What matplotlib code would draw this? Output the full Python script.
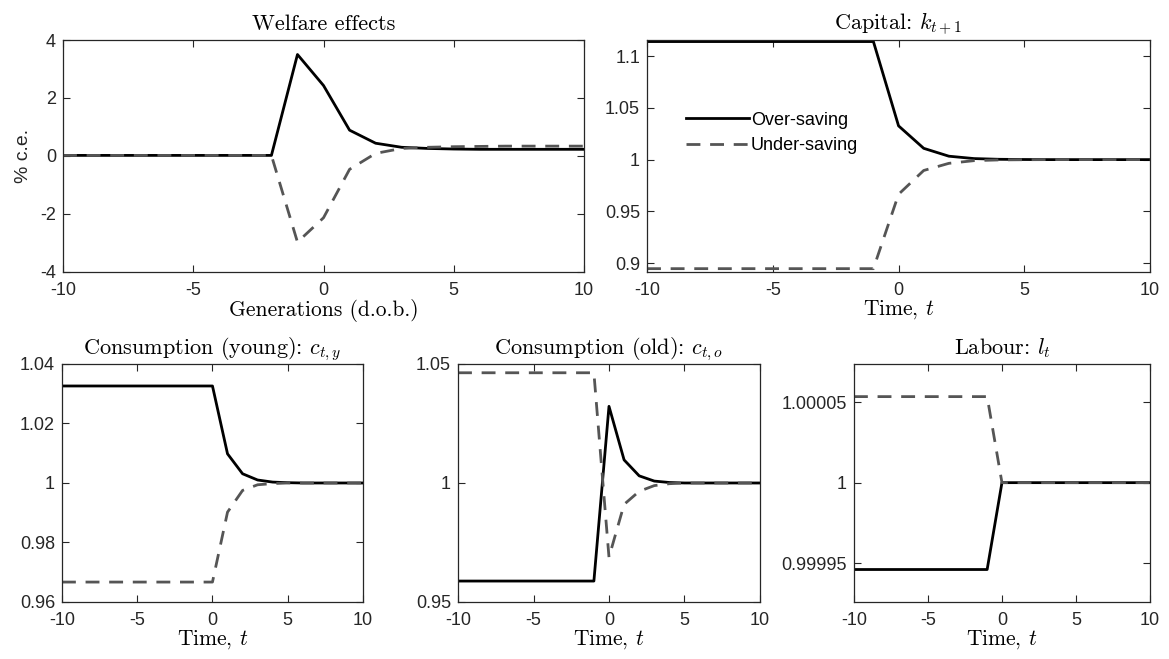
import numpy as np
import matplotlib.pyplot as plt

plt.rcParams['font.family'] = ['Liberation Sans', 'DejaVu Sans']
plt.rcParams['mathtext.fontset'] = 'cm'
plt.rcParams['axes.unicode_minus'] = False

t = [-10, -9, -8, -7, -6, -5, -4, -3, -2, -1, 0, 1, 2, 3, 4, 5, 6, 7, 8, 9, 10]

# welfare effects (% c.e.)
welf_over = [0.02, 0.02, 0.02, 0.02, 0.02, 0.02, 0.02, 0.02, 0.02, 3.5, 2.43, 0.89,
             0.44, 0.30, 0.26, 0.24, 0.23, 0.23, 0.23, 0.23, 0.23]
welf_under = [0.02, 0.02, 0.02, 0.02, 0.02, 0.02, 0.02, 0.02, 0.02, -2.97, -2.13, -0.46,
              0.09, 0.26, 0.30, 0.32, 0.33, 0.34, 0.34, 0.34, 0.34]

# capital k_{t+1}
cap_over = [1.114, 1.114, 1.114, 1.114, 1.114, 1.114, 1.114, 1.114, 1.114, 1.114, 1.0326,
            1.0109, 1.0033, 1.001, 1.0003, 1.0001, 1.0, 1.0, 1.0, 1.0, 1.0]
cap_under = [0.8947, 0.8947, 0.8947, 0.8947, 0.8947, 0.8947, 0.8947, 0.8947, 0.8947, 0.8947,
             0.9665, 0.9895, 0.9964, 0.999, 0.9997, 0.9999, 1.0, 1.0, 1.0, 1.0, 1.0]

# consumption young
cy_over = [1.0326, 1.0326, 1.0326, 1.0326, 1.0326, 1.0326, 1.0326, 1.0326, 1.0326, 1.0326,
           1.0326, 1.0098, 1.0031, 1.001, 1.0003, 1.0001, 1.0, 1.0, 1.0, 1.0, 1.0]
cy_under = [0.9667, 0.9667, 0.9667, 0.9667, 0.9667, 0.9667, 0.9667, 0.9667, 0.9667, 0.9667,
            0.9667, 0.9902, 0.9975, 0.9994, 0.9998, 1.0, 1.0, 1.0, 1.0, 1.0, 1.0]

# consumption old
co_over = [0.9588, 0.9588, 0.9588, 0.9588, 0.9588, 0.9588, 0.9588, 0.9588, 0.9588, 0.9588,
           1.0322, 1.0097, 1.003, 1.0008, 1.0002, 1.0, 1.0, 1.0, 1.0, 1.0, 1.0]
co_under = [1.0463, 1.0463, 1.0463, 1.0463, 1.0463, 1.0463, 1.0463, 1.0463, 1.0463, 1.0463,
            0.9688, 0.991, 0.9965, 0.9989, 0.9997, 1.0, 1.0, 1.0, 1.0, 1.0, 1.0]

# labour
lab_over = [0.999946, 0.999946, 0.999946, 0.999946, 0.999946, 0.999946, 0.999946, 0.999946,
            0.999946, 0.999946, 1.0, 1.0, 1.0, 1.0, 1.0, 1.0, 1.0, 1.0, 1.0, 1.0, 1.0]
lab_under = [1.0000535, 1.0000535, 1.0000535, 1.0000535, 1.0000535, 1.0000535, 1.0000535,
             1.0000535, 1.0000535, 1.0000535, 1.0, 1.0, 1.0, 1.0, 1.0, 1.0, 1.0, 1.0, 1.0, 1.0, 1.0]

panels = [
    ('Welfare effects', 'Generations (d.o.b.)', welf_over, welf_under,
     (-4, 4), [-4, -2, 0, 2, 4], ['-4', '-2', '0', '2', '4'],
     [0.0539, 0.5873, 0.4457, 0.352]),
    (r'Capital: $k_{t+1}$', r'Time, $t$', cap_over, cap_under,
     (0.8915, 1.1155), [0.9, 0.95, 1.0, 1.05, 1.1], ['0.9', '0.95', '1', '1.05', '1.1'],
     [0.5535, 0.5873, 0.4303, 0.352]),
    (r'Consumption (young): $c_{t,y}$', r'Time, $t$', cy_over, cy_under,
     (0.96, 1.04), [0.96, 0.98, 1.0, 1.02, 1.04], ['0.96', '0.98', '1', '1.02', '1.04'],
     [0.053, 0.0865, 0.2575, 0.3612]),
    (r'Consumption (old): $c_{t,o}$', r'Time, $t$', co_over, co_under,
     (0.95, 1.05), [0.95, 1.0, 1.05], ['0.95', '1', '1.05'],
     [0.3918, 0.0865, 0.2583, 0.3612]),
    (r'Labour: $l_t$', r'Time, $t$', lab_over, lab_under,
     (0.9999258, 1.0000738), [0.99995, 1.0, 1.00005], ['0.99995', '1', '1.00005'],
     [0.7305, 0.0865, 0.2532, 0.3612]),
]

fig = plt.figure(figsize=(11.69, 6.59), dpi=100)
edge = '#262626'

for i, (title, xlab, over, under, ylim, yt, ytl, pos) in enumerate(panels):
    ax = fig.add_axes(pos)
    ax.plot(t, over, '-', color='black', lw=2.0, label='Over-saving')
    ax.plot(t, under, '--', color='#555555', lw=2.0, dashes=(5, 3.5), label='Under-saving')
    ax.set_xlim(-10, 10)
    ax.set_ylim(*ylim)
    ax.set_xticks([-10, -5, 0, 5, 10])
    ax.set_xticklabels(['-10', '-5', '0', '5', '10'])
    ax.set_yticks(yt)
    ax.set_yticklabels(ytl)
    ax.tick_params(direction='in', top=True, right=True, labelsize=13,
                   colors=edge, length=5, width=0.8)
    ax.tick_params(axis='x', pad=7)
    ax.tick_params(axis='y', pad=5)
    for s in ax.spines.values():
        s.set_color(edge)
        s.set_linewidth(0.9)
    ax.set_title(title, fontsize=16, fontname='cmr10', pad=7)
    ax.set_xlabel(xlab, fontsize=15.5, fontname='cmr10', labelpad=0)
    if i == 0:
        ax.set_ylabel('% c.e.', fontsize=14, color=edge, labelpad=6)
    if i == 1:
        ax.legend(loc='center left', bbox_to_anchor=(0.045, 0.6), frameon=False,
                  fontsize=13, handlelength=3.5, handletextpad=0.1, labelspacing=0.45)

fig.savefig('out.png', dpi=100)
